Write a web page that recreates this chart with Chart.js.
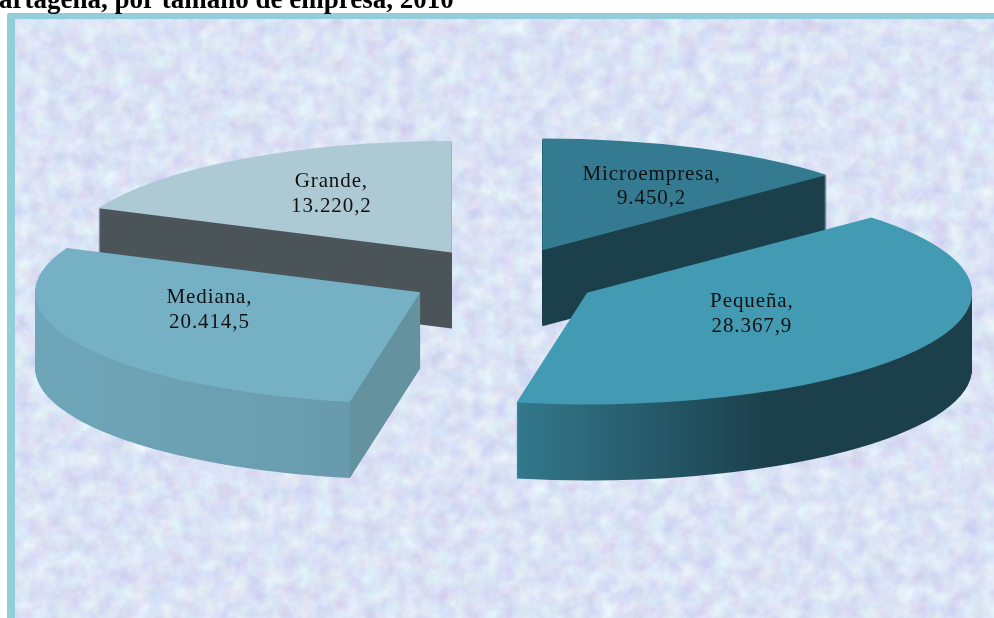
<!DOCTYPE html>
<html>
<head>
<meta charset="utf-8">
<script src="https://cdn.jsdelivr.net/npm/chart.js@4/dist/chart.umd.js"></script>
<style>
    html, body { margin: 0; padding: 0; background: #fff; overflow: hidden; }
    #wrap { position: relative; width: 994px; height: 618px; overflow: hidden; }
    #frame { position: absolute; left: 7px; top: 13px; width: 1000px; height: 620px; box-sizing: border-box;
             border-left: 8px solid #92cddc; border-top: 6px solid #92cddc; border-top-left-radius: 3px; }
    #paper { position: absolute; left: 15px; top: 19px; width: 979px; height: 599px; }
    #chart { position: absolute; left: 0; top: 0; }
</style>
</head>
<body>
<div id="wrap">
    <div id="frame"></div>
    <svg id="paper" xmlns="http://www.w3.org/2000/svg">
        <filter id="mottle" x="0" y="0" width="100%" height="100%" color-interpolation-filters="sRGB">
            <feTurbulence type="fractalNoise" baseFrequency="0.06" numOctaves="5" seed="11"/>
            <feColorMatrix type="matrix" values="0.10 0.12 0 0 0.75  0 0.20 0 0 0.79  0 0.05 0.06 0 0.905  0 0 0 0 1"/>
        </filter>
        <rect width="100%" height="100%" filter="url(#mottle)"/>
    </svg>
    <canvas id="chart" width="994" height="618"></canvas>
</div>
<script>
const title = 'artagena, por tamaño de empresa, 2010'
const categories = ['Microempresa', 'Pequeña', 'Mediana', 'Grande']
const values = [9450.2, 28367.9, 20414.5, 13220.2]

const topColors = ['#347b92', '#439ab3', '#75b0c5', '#adc9d4']
const sideStops = [
    [[0, '#1b404c'], [1, '#1b404c']],
    [[0, '#33788c'], [0.55, '#1b404c'], [1, '#1b404c']],
    [[0, '#6fa5b8'], [1, '#5c8a9b']],
    [[0, '#4b5459'], [1, '#4b5459']],
]
const cutColors = [null, null, '#64939f', null]
const drawOrder = [3, 0, 2, 1]
// label place inside each slice, as share of the radius along x and y
const labelPlace = [[0.703, 0.654], [0.49, 0.40], [0.62, 0.344], [0.57, 0.664]]

const center = { x: 504, y: 278 }
const radius = 385
const tilt = 0.29
const explode = 95
const explodeTilt = 0.32
const depth = 76

const fmt = new Intl.NumberFormat('de-DE', { minimumFractionDigits: 1, maximumFractionDigits: 1 })

const pie3d = {
    id: 'pie3d',
    beforeDatasetsDraw(chart) {
        const ctx = chart.ctx
        const arcs = chart.getDatasetMeta(0).data

        ctx.save()
        ctx.fillStyle = '#000'
        ctx.font = 'bold 27px "Liberation Serif"'
        ctx.textAlign = 'left'
        ctx.textBaseline = 'alphabetic'
        ctx.fillText(title, -1, 8)
        ctx.restore()

        drawOrder.forEach((i) => {
            const arc = arcs[i]
            const mid = (arc.startAngle + arc.endAngle) / 2
            ctx.save()
            ctx.translate(
                center.x + Math.cos(mid) * explode,
                center.y + Math.sin(mid) * explode * explodeTilt)
            ctx.scale(1, tilt)

            // side wall: the slice outline swept downwards
            const grad = ctx.createLinearGradient(
                Math.min(Math.cos(arc.startAngle), Math.cos(arc.endAngle)) * radius, 0,
                radius, 0)
            sideStops[i].forEach((s) => grad.addColorStop(s[0], s[1]))
            ctx.fillStyle = grad
            for (let d = depth; d > 0; d--) {
                ctx.beginPath()
                ctx.moveTo(0, d / tilt)
                ctx.arc(0, d / tilt, radius, arc.startAngle, arc.endAngle)
                ctx.closePath()
                ctx.fill()
            }

            // flat cut face next to the curved wall
            if (cutColors[i]) {
                const ex = Math.cos(arc.startAngle) * radius
                const ey = Math.sin(arc.startAngle) * radius
                ctx.fillStyle = cutColors[i]
                ctx.beginPath()
                ctx.moveTo(0, 0)
                ctx.lineTo(ex, ey)
                ctx.lineTo(ex, ey + depth / tilt)
                ctx.lineTo(0, depth / tilt)
                ctx.closePath()
                ctx.fill()
            }

            // top face is the library's own arc
            ctx.translate(-arc.x, -arc.y)
            arc.draw(ctx)
            ctx.restore()
        })

        ctx.save()
        ctx.fillStyle = '#111'
        ctx.font = '21px "Liberation Serif"'
        ctx.letterSpacing = '0.9px'
        ctx.textAlign = 'center'
        ctx.textBaseline = 'alphabetic'
        arcs.forEach((arc, i) => {
            const mid = (arc.startAngle + arc.endAngle) / 2
            const ax = center.x + Math.cos(mid) * explode
            const ay = center.y + Math.sin(mid) * explode * tilt
            const x = ax + Math.cos(mid) * radius * labelPlace[i][0]
            const y = ay + Math.sin(mid) * radius * tilt * labelPlace[i][1]
            ctx.fillText(categories[i] + ',', x, y - 6)
            ctx.fillText(fmt.format(values[i]), x, y + 18.5)
        })
        ctx.restore()
        return false
    },
}

new Chart(document.getElementById('chart'), {
    type: 'pie',
    data: {
        labels: categories,
        datasets: [
            {
                data: values,
                backgroundColor: topColors,
                borderWidth: 0,
            },
        ],
    },
    options: {
        responsive: false,
        animation: false,
        radius: radius,
        plugins: {
            legend: { display: false },
            tooltip: { enabled: false },
        },
    },
    plugins: [pie3d],
})
</script>
</body>
</html>
